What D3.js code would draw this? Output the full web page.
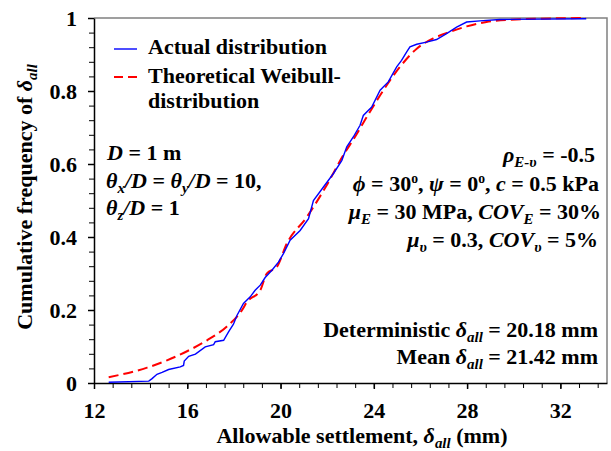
<!DOCTYPE html>
<html>
<head>
<meta charset="utf-8">
<script src="https://cdn.jsdelivr.net/npm/d3@7"></script>
<style>
  body { margin: 0; background: #fff; }
  text { font-family: "Liberation Serif", "Times New Roman", serif; font-weight: bold; fill: #000; }
</style>
</head>
<body>
<div id="chart"></div>
<script>
// values
const actualX = [12.63, 14.35, 14.49, 14.70, 14.92, 15.20, 15.70, 15.84, 15.87, 16.06, 16.35, 16.77, 17.13, 17.20, 17.56,
  17.77, 17.98, 18.13, 18.41, 18.70, 18.91, 19.13, 19.34, 19.63, 19.91, 20.13, 20.41, 20.84, 21.20, 21.41, 21.84,
  22.27, 22.63, 22.84, 23.12, 23.41, 23.55, 23.91, 24.27, 24.62, 24.98, 25.19, 25.41, 25.55, 25.84, 26.26, 26.69,
  27.12, 27.55, 27.98, 28.55, 29.40, 33.11];
const actualF = [0.002, 0.005, 0.012, 0.024, 0.029, 0.037, 0.044, 0.048, 0.060, 0.073, 0.079, 0.099, 0.105, 0.113, 0.117,
  0.140, 0.161, 0.185, 0.218, 0.236, 0.254, 0.268, 0.289, 0.309, 0.331, 0.355, 0.391, 0.418, 0.450, 0.500, 0.537,
  0.574, 0.610, 0.647, 0.674, 0.706, 0.733, 0.756, 0.802, 0.825, 0.866, 0.884, 0.907, 0.921, 0.928, 0.934, 0.941,
  0.957, 0.975, 0.989, 0.992, 0.996, 0.998];

const weibullX = [12.63, 14.28, 15.13, 15.99, 16.85, 17.70, 18.34, 18.56, 19.13, 19.41, 19.84, 20.27, 21.13, 21.98,
  22.69, 23.19, 23.70, 24.41, 25.12, 25.84, 26.55, 27.26, 27.98, 28.83, 30.10, 33.10];
const weibullF = [0.016, 0.042, 0.062, 0.087, 0.117, 0.155, 0.199, 0.222, 0.254, 0.300, 0.318, 0.382, 0.455, 0.542,
  0.624, 0.674, 0.729, 0.802, 0.866, 0.916, 0.944, 0.962, 0.977, 0.989, 0.996, 1.0];

const xTicks = [12, 16, 20, 24, 28, 32];
const yTicks = [0, 0.2, 0.4, 0.6, 0.8, 1];

const width = 611, height = 451;
const margin = {top: 18, right: 4, bottom: 68, left: 94};
const fs = 22;

const svg = d3.select('#chart').append('svg')
    .attr('width', width)
    .attr('height', height);

const x = d3.scaleLinear().domain([12, 34]).range([margin.left, width - margin.right]);
const y = d3.scaleLinear().domain([0, 1]).range([height - margin.bottom, margin.top]);

//frame: gray top/right
svg.append('path')
    .attr('d', `M${x(12)},${y(1)}H${x(34)}V${y(0)}`)
    .attr('fill', 'none')
    .attr('stroke', '#808080')
    .attr('stroke-width', 1.5);

//minor ticks
svg.append('g')
    .attr('transform', `translate(0,${y(0)})`)
    .call(d3.axisBottom(x).tickValues(d3.range(12, 34, 0.8)).tickSize(5).tickFormat(''))
    .call(g => g.select('.domain').remove());
svg.append('g')
    .attr('transform', `translate(${x(12)},0)`)
    .call(d3.axisLeft(y).tickValues(d3.range(0, 1.001, 0.04)).tickSize(5).tickFormat(''))
    .call(g => g.select('.domain').remove());

//major axes
const xAxis = svg.append('g')
    .attr('transform', `translate(0,${y(0)})`)
    .call(d3.axisBottom(x).tickValues(xTicks).tickSize(6).tickPadding(13).tickSizeOuter(0));
const yAxis = svg.append('g')
    .attr('transform', `translate(${x(12)},0)`)
    .call(d3.axisLeft(y).tickValues(yTicks).tickSize(6).tickPadding(11).tickSizeOuter(0)
        .tickFormat(d => d3.format('~g')(d)));

[xAxis, yAxis].forEach(a => {
    a.selectAll('.domain, line').attr('stroke', '#000').attr('stroke-width', 1.5);
    a.selectAll('text').attr('font-size', fs).attr('font-family', null);
});

//curves
const line = d3.line().x(d => x(d[0])).y(d => y(d[1]));

svg.append('path')
    .datum(d3.zip(weibullX, weibullF))
    .attr('d', line.curve(d3.curveMonotoneX))
    .attr('fill', 'none')
    .attr('stroke', '#ff0000')
    .attr('stroke-width', 2)
    .attr('stroke-dasharray', '10,5');

svg.append('path')
    .datum(d3.zip(actualX, actualF))
    .attr('d', line.curve(d3.curveLinear))
    .attr('fill', 'none')
    .attr('stroke', '#0000ff')
    .attr('stroke-width', 1.4);

//text with italic / sub / sup parts
function rich(px, py, anchor, parts) {
    const t = svg.append('text')
        .attr('x', px).attr('y', py)
        .attr('text-anchor', anchor)
        .attr('font-size', fs);
    let shift = 0;
    parts.forEach(p => {
        const [str, st] = Array.isArray(p) ? p : [p, ''];
        const ts = t.append('tspan').text(str);
        let want = 0;
        if (st.includes('i')) ts.attr('font-style', 'italic');
        if (st.includes('s')) { want = 5; ts.attr('font-size', fs * 0.68); }
        if (st.includes('p')) { want = -8; ts.attr('font-size', fs * 0.62); }
        if (want !== shift) { ts.attr('dy', want - shift); shift = want; }
    });
    return t;
}

//legend
svg.append('line').attr('x1', 114).attr('x2', 137).attr('y1', 49).attr('y2', 49)
    .attr('stroke', '#0000ff').attr('stroke-width', 1.4);
svg.append('line').attr('x1', 114).attr('x2', 137).attr('y1', 77).attr('y2', 77)
    .attr('stroke', '#ff0000').attr('stroke-width', 2).attr('stroke-dasharray', '9,5');
rich(148, 54, 'start', ['Actual distribution']);
rich(148, 83, 'start', ['Theoretical Weibull-']);
rich(148, 108, 'start', ['distribution']);

//left notes
rich(107, 160, 'start', [['D', 'i'], ' = 1 m']);
rich(106, 188, 'start', [['θ', 'i'], ['x', 'is'], ['/D', 'i'], ' = ', ['θ', 'i'], ['y', 'is'], ['/D', 'i'], ' = 10,']);
rich(106, 215, 'start', [['θ', 'i'], ['z', 'is'], ['/D', 'i'], ' = 1']);

//right notes
rich(595, 162, 'end', [['ρ', 'i'], ['E-υ', 'is'], ' = -0.5']);
rich(599, 191, 'end', [['ϕ', 'i'], ' = 30', ['o', 'p'], ', ', ['ψ', 'i'], ' = 0', ['o', 'p'], ', ', ['c', 'i'], ' = 0.5 kPa']);
rich(601, 219, 'end', [['μ', 'i'], ['E', 'is'], ' = 30 MPa, ', ['COV', 'i'], ['E', 'is'], ' = 30%']);
rich(598, 247, 'end', [['μ', 'i'], ['υ', 'is'], ' = 0.3, ', ['COV', 'i'], ['υ', 'is'], ' = 5%']);

rich(598, 337, 'end', ['Deterministic ', ['δ', 'i'], ['all', 'is'], ' = 20.18 mm']);
rich(598, 364, 'end', ['Mean ', ['δ', 'i'], ['all', 'is'], ' = 21.42 mm']);

//axis titles
rich(362, 443, 'middle', ['Allowable settlement, ', ['δ', 'i'], ['all', 'is'], ' (mm)']);
rich(0, 0, 'middle', ['Cumulative frequency of ', ['δ', 'i'], ['all', 'is']])
    .attr('transform', `translate(32,197) rotate(-90)`);
</script>
</body>
</html>
